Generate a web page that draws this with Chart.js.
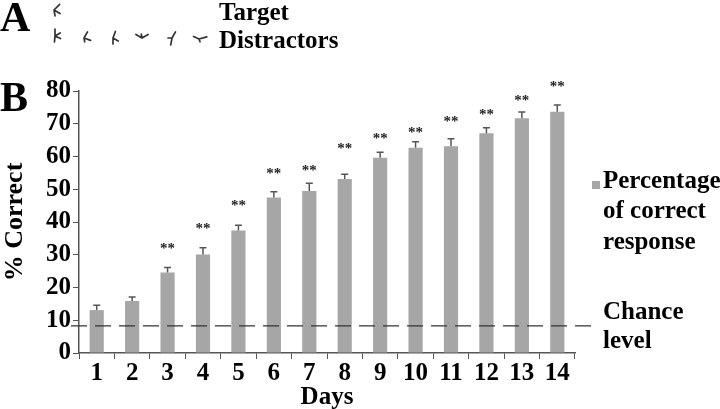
<!DOCTYPE html>
<html>
<head>
<meta charset="utf-8">
<script src="https://cdn.jsdelivr.net/npm/chart.js@4.4.1/dist/chart.umd.min.js"></script>
<style>
  html, body { margin: 0; padding: 0; background: #fff; }
  #wrap { width: 720px; height: 409px; position: relative; }
</style>
</head>
<body>
<div id="wrap"><canvas id="grafico"></canvas></div>
<script>
// datos
var days = ["1", "2", "3", "4", "5", "6", "7", "8", "9", "10", "11", "12", "13", "14"];
var percentCorrect = [13.1, 15.9, 24.6, 30.1, 37.4, 47.5, 49.5, 53.1, 59.6, 62.7, 63.1, 67.1, 71.7, 73.7];
var errorUp = [1.5, 1.2, 1.5, 2.0, 1.6, 1.7, 2.3, 1.5, 1.7, 1.8, 2.3, 1.7, 1.9, 2.0];
var starLevel = [null, null, 32.7, 38.8, 45.8, 55.5, 56.4, 63.2, 66.1, 68.1, 71.4, 73.7, 77.9, 82.2];
var chanceLevel = 8.3;
var yTicks = [0, 10, 20, 30, 40, 50, 60, 70, 80];

var serif = "'Liberation Serif', 'Times New Roman', serif";
var barGray = "#a6a6a6";
var axisGray = "#555555";

// dibuja una figura tipo "Y" (brazos desde un centro)
function drawGlyph(ctx, cx, cy, angles) {
  ctx.beginPath();
  angles.forEach(function (a) {
    var r = a[1];
    var rad = a[0] * Math.PI / 180;
    ctx.moveTo(cx, cy);
    ctx.lineTo(cx + r * Math.cos(rad), cy - r * Math.sin(rad));
  });
  ctx.stroke();
}

var extras = {
  id: "extras",
  afterDatasetsDraw: function (chart) {
    var ctx = chart.ctx;
    var y = chart.scales.y;
    var area = chart.chartArea;
    var meta = chart.getDatasetMeta(0);
    ctx.save();

    // barras de error (solo hacia arriba)
    ctx.strokeStyle = axisGray;
    ctx.lineWidth = 1.5;
    meta.data.forEach(function (bar, i) {
      var y0 = y.getPixelForValue(percentCorrect[i]);
      var y1 = y.getPixelForValue(percentCorrect[i] + errorUp[i]);
      ctx.beginPath();
      ctx.moveTo(bar.x, y0);
      ctx.lineTo(bar.x, y1);
      ctx.moveTo(bar.x - 3.5, y1);
      ctx.lineTo(bar.x + 3.5, y1);
      ctx.stroke();
    });

    // asteriscos
    ctx.fillStyle = "#222";
    ctx.font = "bold 15px " + serif;
    ctx.textAlign = "center";
    ctx.textBaseline = "middle";
    meta.data.forEach(function (bar, i) {
      if (starLevel[i] === null) return;
      ctx.fillText("**", bar.x, y.getPixelForValue(starLevel[i]) + 3);
    });

    // linea de azar
    var yc = y.getPixelForValue(chanceLevel);
    ctx.strokeStyle = "#333";
    ctx.lineWidth = 1.2;
    ctx.setLineDash([16, 8]);
    ctx.beginPath();
    ctx.moveTo(area.left - 8, yc);
    ctx.lineTo(area.right + 18, yc);
    ctx.stroke();
    ctx.setLineDash([]);

    // leyenda
    ctx.fillStyle = barGray;
    ctx.fillRect(592, 181, 8, 8);
    ctx.fillStyle = "#000";
    ctx.textAlign = "left";
    ctx.textBaseline = "middle";
    ctx.font = "bold 25px " + serif;
    ctx.fillText("Percentage", 603, 182);
    ctx.fillText("of correct", 603, 212);
    ctx.fillText("response", 603, 243);
    ctx.fillText("Chance", 603, 313);
    ctx.fillText("level", 603, 342);

    // paneles
    ctx.font = "bold 42px " + serif;
    ctx.textBaseline = "alphabetic";
    ctx.fillText("A", 0, 31);
    ctx.fillText("B", 0, 111);
    ctx.font = "bold 25px " + serif;
    ctx.fillText("Target", 219, 20);
    ctx.fillText("Distractors", 219, 48);

    // estimulos
    ctx.strokeStyle = "#333";
    ctx.lineWidth = 1.7;
    ctx.lineCap = "round";
    drawGlyph(ctx, 54, 10, [[45, 8], [-30, 7], [-80, 6]]);
    drawGlyph(ctx, 55, 36, [[90, 7], [30, 6], [-25, 6], [-95, 6]]);
    drawGlyph(ctx, 84, 38, [[60, 7], [-20, 7], [-80, 4]]);
    drawGlyph(ctx, 113, 38, [[70, 7], [-30, 6], [-90, 6]]);
    drawGlyph(ctx, 142, 38, [[150, 7], [30, 7], [100, 4]]);
    drawGlyph(ctx, 172, 38, [[60, 7], [180, 4], [-100, 7]]);
    drawGlyph(ctx, 199, 39, [[155, 6], [15, 8], [-70, 3]]);

    ctx.restore();
  }
};

document.addEventListener("DOMContentLoaded", function () {
  var ctx = document.getElementById("grafico").getContext("2d");
  new Chart(ctx, {
    type: "bar",
    data: {
      labels: days,
      datasets: [{
        label: "Percentage of correct response",
        data: percentCorrect,
        backgroundColor: barGray,
        borderWidth: 0,
        barPercentage: 0.4,
        categoryPercentage: 1.0
      }]
    },
    options: {
      responsive: true,
      maintainAspectRatio: false,
      animation: false,
      layout: { padding: { left: 0, right: 145, top: 91, bottom: 0 } },
      plugins: {
        legend: { display: false },
        tooltip: { enabled: false }
      },
      scales: {
        x: {
          grid: { drawOnChartArea: false, color: axisGray, tickLength: 6, offset: true },
          border: { color: axisGray, width: 1.5 },
          ticks: {
            color: "#000",
            padding: 0,
            maxRotation: 0,
            autoSkip: false,
            font: { family: serif, size: 25, weight: "bold" }
          },
          title: {
            display: true,
            text: "Days",
            color: "#000",
            padding: { top: 0, bottom: -4 },
            font: { family: serif, size: 25, weight: "bold" }
          },
          afterFit: function (scale) { scale.height = 56; }
        },
        y: {
          min: 0,
          max: 80,
          afterBuildTicks: function (scale) {
            scale.ticks = yTicks.map(function (v) { return { value: v }; });
          },
          grid: { drawOnChartArea: false, color: axisGray, tickLength: 6 },
          border: { color: axisGray, width: 1.5 },
          ticks: {
            color: "#000",
            padding: 2,
            autoSkip: false,
            font: { family: serif, size: 25, weight: "bold" }
          },
          title: {
            display: true,
            text: "% Correct",
            color: "#000",
            padding: 0,
            font: { family: serif, size: 26, weight: "bold" }
          },
          afterFit: function (scale) { scale.width = 79; }
        }
      }
    },
    plugins: [extras]
  });
});
</script>
</body>
</html>
